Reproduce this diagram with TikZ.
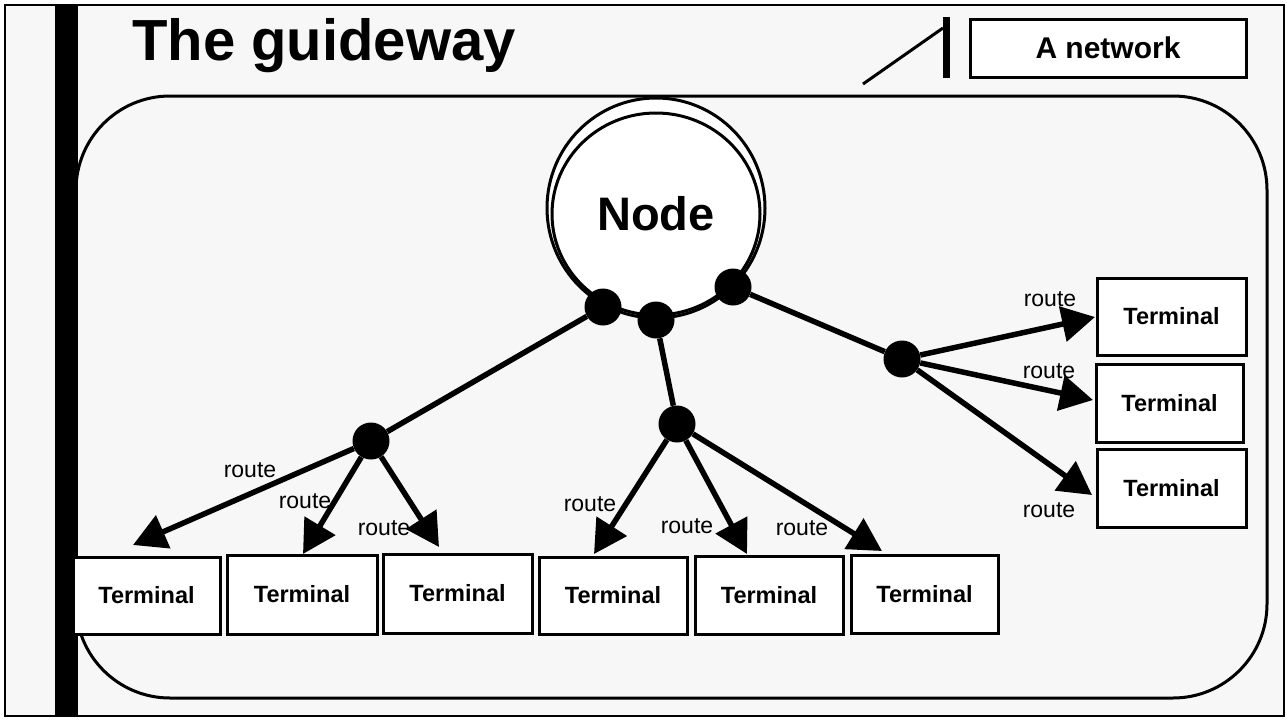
\documentclass[tikz,border=0pt]{standalone}
\usepackage{fontspec}
\setmainfont{Liberation Sans}
\usetikzlibrary{arrows.meta,shapes.geometric}
\definecolor{bggray}{HTML}{F7F7F7}
\begin{document}
\begin{tikzpicture}[x=1pt,y=-1pt,
  term/.style={draw,line width=3pt,fill=white,inner sep=0pt,font=\fontsize{23.5}{25}\selectfont\bfseries},
  dot/.style={circle,fill=black,minimum size=37pt,inner sep=0pt},
  conn/.style={line width=5.5pt},
  arr/.style={line width=5.5pt,-{Triangle[length=33pt,width=35pt]}},
  rlabel/.style={anchor=base,inner sep=0pt,font=\fontsize{23}{25}\selectfont}]
\useasboundingbox (0,0) rectangle (1287,720);
\fill[white] (0,0) rectangle (1287,720);
% frame and background
\draw[line width=2pt,fill=bggray] (5,5) rectangle (1284,716);
\draw[line width=3pt,fill=bggray,rounded corners=94pt] (76,96) rectangle (1267,698);
\fill[black] (55,5) rectangle (78,716);
% title
\node[anchor=base,inner sep=0pt,font=\fontsize{58}{60}\selectfont\bfseries] (title) at (324,60) {The guideway};
% legend box and marks
\node[draw,line width=3pt,fill=white,minimum width=276pt,minimum height=58pt,inner sep=0pt,font=\fontsize{30}{32}\selectfont\bfseries] (net) at (1108,48) {A network};
\coordinate (s1) at (863,84);
\coordinate (s2) at (943,28);
\draw[line width=3pt] (s1) -- (s2);
\coordinate (v1) at (946.5,17);
\coordinate (v2) at (946.5,78);
\draw[line width=7pt] (v1) -- (v2);
% hub
\node[ellipse,draw,line width=3pt,fill=white,minimum width=218pt,minimum height=220pt,inner sep=0pt] (hubout) at (656,208) {};
\node[ellipse,draw,line width=3pt,fill=white,minimum width=208pt,minimum height=202pt,inner sep=0pt,font=\fontsize{47}{49}\selectfont\bfseries] (hub) at (656,214) {Node};
% terminals
\node[term,minimum width=147pt,minimum height=77pt] (t1) at (146.5,595.5) {Terminal};
\node[term,minimum width=150pt,minimum height=79pt] (t2) at (302,594.5) {Terminal};
\node[term,minimum width=149pt,minimum height=79pt] (t3) at (457.5,593.5) {Terminal};
\node[term,minimum width=148pt,minimum height=77pt] (t4) at (613,595.5) {Terminal};
\node[term,minimum width=148pt,minimum height=78pt] (t5) at (769,595) {Terminal};
\node[term,minimum width=147pt,minimum height=78pt] (t6) at (924.5,594) {Terminal};
\node[term,minimum width=149pt,minimum height=77pt] (t7) at (1171.5,316.5) {Terminal};
\node[term,minimum width=147pt,minimum height=78pt] (t8) at (1169.5,403) {Terminal};
\node[term,minimum width=149pt,minimum height=78pt] (t9) at (1171.5,488) {Terminal};
% junction dots
\node[dot] (d1) at (603,307) {};
\node[dot] (d2) at (656,320) {};
\node[dot] (d3) at (733,287) {};
\node[dot] (dl) at (371,441) {};
\node[dot] (dm) at (677,424) {};
\node[dot] (dr) at (902,359) {};
% arrow tip points
\coordinate (a1) at (133,545);
\coordinate (a2) at (303,554);
\coordinate (a3) at (439,547);
\coordinate (a4) at (594,554);
\coordinate (a5) at (747,554);
\coordinate (a6) at (882,551);
\coordinate (a7) at (1095,317);
\coordinate (a8) at (1093,400);
\coordinate (a9) at (1092,495);
% connectors
\draw[conn] (d1) -- (dl);
\draw[conn] (d2) -- (dm);
\draw[conn] (d3) -- (dr);
\draw[arr] (dl) -- (a1);
\draw[arr] (dl) -- (a2);
\draw[arr] (dl) -- (a3);
\draw[arr] (dm) -- (a4);
\draw[arr] (dm) -- (a5);
\draw[arr] (dm) -- (a6);
\draw[arr] (dr) -- (a7);
\draw[arr] (dr) -- (a8);
\draw[arr] (dr) -- (a9);
% route labels
\node[rlabel] (r1) at (250,477) {route};
\node[rlabel] (r2) at (305,508) {route};
\node[rlabel] (r3) at (384,535) {route};
\node[rlabel] (r4) at (590,511) {route};
\node[rlabel] (r5) at (687,533) {route};
\node[rlabel] (r6) at (802,535) {route};
\node[rlabel] (r7) at (1050,306) {route};
\node[rlabel] (r8) at (1049,378) {route};
\node[rlabel] (r9) at (1049,517) {route};
\end{tikzpicture}
\end{document}
